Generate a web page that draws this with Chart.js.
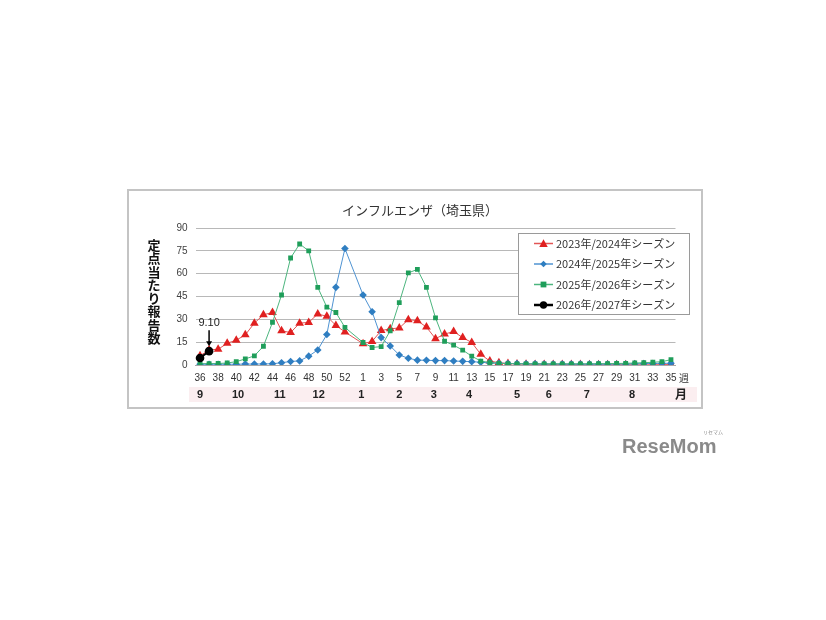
<!DOCTYPE html>
<html>
<head>
<meta charset="utf-8">
<script src="https://cdn.jsdelivr.net/npm/chart.js@4.4.1/dist/chart.umd.min.js"></script>
<style>
  html, body { margin: 0; background: #fff; }
  canvas { display: block; }
</style>
</head>
<body>
<canvas id="flu" width="826" height="620"></canvas>
<script>
// --- weeks of the season (week 53 only exists in 2026) ---
const weeks = ['36','37','38','39','40','41','42','43','44','45','46','47','48','49','50','51','52','53',
  '1','2','3','4','5','6','7','8','9','10','11','12','13','14','15','16','17','18','19','20',
  '21','22','23','24','25','26','27','28','29','30','31','32','33','34','35'];

// reports per sentinel site
const season2324 = [6,10,10.3,14.3,16.3,19.8,27.5,33,34.5,22.5,21.3,27.5,28,33.5,32,26,21.7,null,
  14,15.5,22.6,23.8,24.3,29.8,29.1,24.9,17.3,20.3,22,18,14.8,7,2.6,1.5,
  1.0,0.7,0.5,0.4,0.4,0.3,0.3,0.3,0.3,0.2,0.2,0.2,0.2,0.2,0.2,0.1,0.2,0.2,0.3];
const season2425 = [0.5,0.5,0.5,0.5,0.5,0.6,0.6,0.7,0.8,1.5,2.3,2.7,5.8,9.9,20,51,76.5,null,
  46,35,18,12.5,6.6,4.4,3.2,3.1,2.9,2.9,2.6,2.4,2.2,1.8,1.4,1.1,
  1.0,0.9,0.8,0.8,0.7,0.7,0.6,0.6,0.6,0.6,0.6,0.6,0.7,0.7,0.8,0.9,1.0,1.1,1.1];
const season2526 = [0.9,0.9,1.0,1.3,2.2,4.0,6.0,12.3,28,46,70.3,79.5,75,51,38,34.5,24.7,null,
  14.8,11.5,12.1,22.5,41,60.5,62.8,51,31,15.6,13,9.8,5.8,2.6,1.6,1.1,
  0.9,0.8,0.8,0.8,0.8,0.8,0.8,0.8,0.8,0.8,0.9,0.9,1.0,1.1,1.3,1.5,1.8,2.2,3.5];
const season2627 = [4.6, 9.1];

const yTicks = [0, 15, 30, 45, 60, 75, 90];

// month row under the week axis (month label, week index it sits at)
const monthLabels = ['9','10','11','12','1','2','3','4','5','6','7','8'];
const monthAt = [0, 4.2, 8.8, 13.1, 17.8, 22, 25.8, 29.7, 35, 38.5, 42.7, 47.7];

const JP = '"Noto Sans CJK JP", sans-serif';
const NUM = '"Liberation Sans", Arial, sans-serif';

const series = [
  { label: '2023年/2024年シーズン', data: season2324, line: '#e25555', mark: '#e02020', style: 'triangle', r: 5, w: 1, order: 3 },
  { label: '2024年/2025年シーズン', data: season2425, line: '#4f93d2', mark: '#2f7ec1', style: 'rectRot', r: 3.8, w: 1, order: 2 },
  { label: '2025年/2026年シーズン', data: season2526, line: '#4cb57e', mark: '#1f9e5a', style: 'rect', r: 3.4, w: 1, order: 1 },
  { label: '2026年/2027年シーズン', data: season2627, line: '#000000', mark: '#000000', style: 'circle', r: 4.3, w: 2, order: 0 }
];

function marker(ctx, style, x, y, r, color) {
  ctx.save();
  ctx.fillStyle = color;
  ctx.beginPath();
  if (style === 'triangle') {
    ctx.moveTo(x, y - r);
    ctx.lineTo(x + r, y + r * 0.8);
    ctx.lineTo(x - r, y + r * 0.8);
  } else if (style === 'rectRot') {
    ctx.moveTo(x, y - r); ctx.lineTo(x + r, y); ctx.lineTo(x, y + r); ctx.lineTo(x - r, y);
  } else if (style === 'rect') {
    ctx.rect(x - r, y - r, r * 2, r * 2);
  } else {
    ctx.arc(x, y, r, 0, Math.PI * 2);
  }
  ctx.closePath();
  ctx.fill();
  ctx.restore();
}

const decor = {
  id: 'decor',
  beforeDraw(chart) {
    const ctx = chart.ctx;
    const x = chart.scales.x;
    ctx.save();
    ctx.fillStyle = '#fff';
    ctx.fillRect(0, 0, chart.width, chart.height);

    // frame
    ctx.strokeStyle = '#c4c4c4';
    ctx.lineWidth = 2;
    ctx.strokeRect(128, 190, 574, 218);

    // title
    ctx.fillStyle = '#333';
    ctx.font = '13px ' + JP;
    ctx.textAlign = 'center';
    ctx.textBaseline = 'middle';
    ctx.fillText('インフルエンザ（埼玉県）', 420, 210);

    // vertical y title
    ctx.font = 'bold 13px ' + JP;
    ctx.fillStyle = '#111';
    const yt = '定点当たり報告数';
    for (let i = 0; i < yt.length; i++) {
      ctx.fillText(yt[i], 154, 245 + i * 13.3);
    }

    // month band
    ctx.fillStyle = '#fbeef0';
    ctx.fillRect(189, 387, 508, 15);
    ctx.fillStyle = '#222';
    ctx.font = 'bold 11px ' + NUM;
    monthLabels.forEach((m, i) => {
      ctx.fillText(m, x.getPixelForValue(monthAt[i]), 394.5);
    });
    ctx.font = 'bold 12px ' + JP;
    ctx.fillText('月', 681, 394.5);
    ctx.font = '10px ' + JP;
    ctx.fillStyle = '#333';
    ctx.fillText('週', 684, 378);

    // logo
    ctx.fillStyle = '#8a8a8a';
    ctx.font = 'bold 20px ' + NUM;
    ctx.textAlign = 'left';
    ctx.fillText('ReseMom', 622, 447);
    ctx.font = '5px ' + JP;
    ctx.fillText('リセマム', 703, 432);
    ctx.restore();
  },
  afterDatasetsDraw(chart) {
    const ctx = chart.ctx;
    const pt = chart.getDatasetMeta(3).data[1];
    if (!pt) return;
    ctx.save();
    ctx.fillStyle = '#222';
    ctx.font = '11px ' + NUM;
    ctx.textAlign = 'center';
    ctx.textBaseline = 'middle';
    ctx.fillText('9.10', pt.x, pt.y - 28);
    ctx.strokeStyle = '#000';
    ctx.lineWidth = 1.5;
    ctx.beginPath();
    ctx.moveTo(pt.x, pt.y - 21);
    ctx.lineTo(pt.x, pt.y - 7);
    ctx.stroke();
    ctx.fillStyle = '#000';
    ctx.beginPath();
    ctx.moveTo(pt.x - 3, pt.y - 10);
    ctx.lineTo(pt.x + 3, pt.y - 10);
    ctx.lineTo(pt.x, pt.y - 5);
    ctx.closePath();
    ctx.fill();
    ctx.restore();
  },
  afterDraw(chart) {
    const ctx = chart.ctx;
    ctx.save();
    ctx.fillStyle = '#fff';
    ctx.fillRect(518, 233, 171, 81);
    ctx.strokeStyle = '#9a9a9a';
    ctx.lineWidth = 1;
    ctx.strokeRect(518.5, 233.5, 171, 81);
    ctx.font = '11px ' + JP;
    ctx.textAlign = 'left';
    ctx.textBaseline = 'middle';
    series.forEach((s, i) => {
      const y = 243.5 + i * 20.5;
      ctx.strokeStyle = s.line;
      ctx.lineWidth = s.w + 0.5;
      ctx.beginPath();
      ctx.moveTo(534, y);
      ctx.lineTo(553, y);
      ctx.stroke();
      marker(ctx, s.style, 543.5, y, s.r * 0.85, s.mark);
      ctx.fillStyle = '#333';
      ctx.fillText(s.label, 556, y);
    });
    ctx.restore();
  }
};

new Chart(document.getElementById('flu'), {
  type: 'line',
  data: {
    labels: weeks,
    datasets: series.map(s => ({
      label: s.label,
      data: s.data,
      order: s.order,
      borderColor: s.line,
      borderWidth: s.w,
      backgroundColor: s.mark,
      pointStyle: s.style,
      pointRadius: s.r,
      pointBorderWidth: 0,
      pointBackgroundColor: s.mark,
      spanGaps: true,
      tension: 0
    }))
  },
  options: {
    responsive: false,
    animation: false,
    devicePixelRatio: 1,
    layout: { padding: { top: 228, right: 150.5, bottom: 225, left: 0 } },
    plugins: { legend: { display: false }, tooltip: { enabled: false } },
    scales: {
      x: {
        offset: true,
        grid: { display: false, drawTicks: false },
        border: { display: true, color: '#a8a8a8' },
        ticks: {
          autoSkip: false,
          maxRotation: 0,
          padding: 7,
          color: '#333',
          font: { size: 10, family: NUM },
          callback: (v, i) => (i % 2 === 0 ? weeks[i] : '')
        },
        afterFit: s => { s.height = 30; }
      },
      y: {
        min: 0,
        max: 90,
        afterBuildTicks: s => { s.ticks = yTicks.map(v => ({ value: v })); },
        grid: { color: '#b8b8b8', lineWidth: 1, drawTicks: false },
        border: { display: false },
        ticks: { padding: 8, color: '#404040', font: { size: 10, family: NUM } },
        afterFit: s => { s.width = 195.5; }
      }
    }
  },
  plugins: [decor]
});
</script>
</body>
</html>
